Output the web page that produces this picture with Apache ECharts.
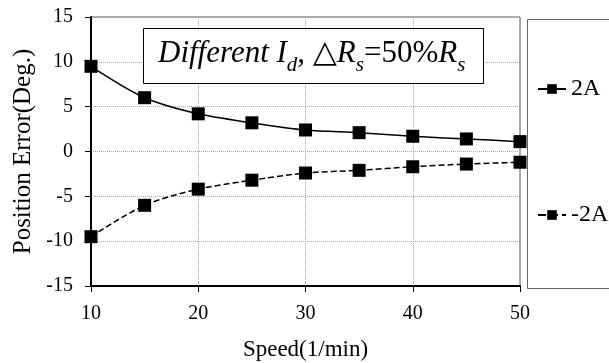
<!DOCTYPE html>
<html>
<head>
<meta charset="utf-8">
<script src="https://cdn.jsdelivr.net/npm/echarts@6/dist/echarts.min.js"></script>
<style>
  html, body { margin: 0; padding: 0; background: #fff; }
  #chart { width: 609px; height: 363px; }
</style>
</head>
<body>
<div id="chart"></div>
<script>
// speed (1/min)
const speeds = [10, 15, 20, 25, 30, 35, 40, 45, 50]
// position error (deg.) for Id = 2A and -2A
const errPos = [9.5, 6.0, 4.2, 3.2, 2.4, 2.1, 1.7, 1.4, 1.1]
const errNeg = [-9.5, -6.0, -4.2, -3.2, -2.4, -2.1, -1.7, -1.4, -1.2]
const seriesNames = ['2A', '-2A']

const font = '"Liberation Serif", "Times New Roman", serif'

let myChart = echarts.init(document.getElementById('chart'))

function pairs(ys) {
    return speeds.map((x, i) => [x, ys[i]])
}

let option = {
    animation: false,
    textStyle: { fontFamily: font, color: '#000' },
    grid: {
        left: 91, right: 89, top: 17, bottom: 77,
        outerBoundsMode: 'none',
        containLabel: false,
        show: true,
        borderColor: '#555',
        borderWidth: 1
    },
    xAxis: {
        type: 'value',
        min: 10, max: 50, interval: 10,
        name: 'Speed(1/min)',
        nameLocation: 'middle',
        nameGap: 52,
        nameTextStyle: { fontSize: 23, fontFamily: font, color: '#000' },
        axisLine: { onZero: false, lineStyle: { color: '#000', width: 2 } },
        axisTick: { show: true, length: 6, lineStyle: { color: '#000' } },
        axisLabel: { fontSize: 20, margin: 18, color: '#000', fontFamily: font },
        splitLine: { lineStyle: { color: '#aaa', type: 'dotted' } }
    },
    yAxis: {
        type: 'value',
        min: -15, max: 15, interval: 5,
        name: 'Position Error(Deg.)',
        nameLocation: 'middle',
        nameGap: 54,
        nameTextStyle: { fontSize: 25, fontFamily: font, color: '#000' },
        axisLine: { show: true, onZero: false, lineStyle: { color: '#000', width: 2 } },
        axisTick: { show: true, length: 6, lineStyle: { color: '#000' } },
        axisLabel: { fontSize: 20, margin: 18, color: '#000', fontFamily: font },
        splitLine: { lineStyle: { color: '#aaa', type: 'dotted' } }
    },
    legend: {
        orient: 'vertical',
        left: 532,
        top: 72,
        itemGap: 102,
        itemWidth: 28,
        itemHeight: 12,
        textStyle: { fontSize: 24, fontFamily: font, color: '#000' },
        data: seriesNames
    },
    graphic: [
        {
            type: 'rect',
            left: 525, top: 17,
            shape: { width: 100, height: 269 },
            style: { fill: 'none', stroke: '#666', lineWidth: 1 },
            silent: true
        },
        {
            type: 'rect',
            left: 143, top: 28,
            shape: { width: 340, height: 55 },
            style: { fill: '#fff', stroke: '#000', lineWidth: 1 },
            z: 10
        },
        {
            type: 'text',
            left: 158, top: 38,
            z: 11,
            style: {
                text: '{i|Different I}{sub|d}{n|, △}{i|R}{sub|s}{n|=50%}{i|R}{sub|s}',
                rich: {
                    i: { fontSize: 31, fontStyle: 'italic', fontFamily: font, color: '#000', verticalAlign: 'top', lineHeight: 36 },
                    n: { fontSize: 31, fontFamily: font, color: '#000', verticalAlign: 'top', lineHeight: 36 },
                    sub: { fontSize: 21, fontStyle: 'italic', fontFamily: font, color: '#000', verticalAlign: 'top', lineHeight: 36, padding: [17, 0, 0, 0] }
                }
            }
        }
    ],
    series: [
        {
            name: seriesNames[0],
            type: 'line',
            data: pairs(errPos),
            smooth: 0.3,
            symbol: 'rect',
            symbolSize: 13,
            itemStyle: { color: '#000' },
            lineStyle: { color: '#000', width: 1.5, type: 'solid' },
            z: 5
        },
        {
            name: seriesNames[1],
            type: 'line',
            data: pairs(errNeg),
            smooth: 0.3,
            symbol: 'rect',
            symbolSize: 13,
            itemStyle: { color: '#000' },
            lineStyle: { color: '#000', width: 1.5, type: 'dashed' },
            z: 5
        }
    ]
}

myChart.setOption(option)
</script>
</body>
</html>
